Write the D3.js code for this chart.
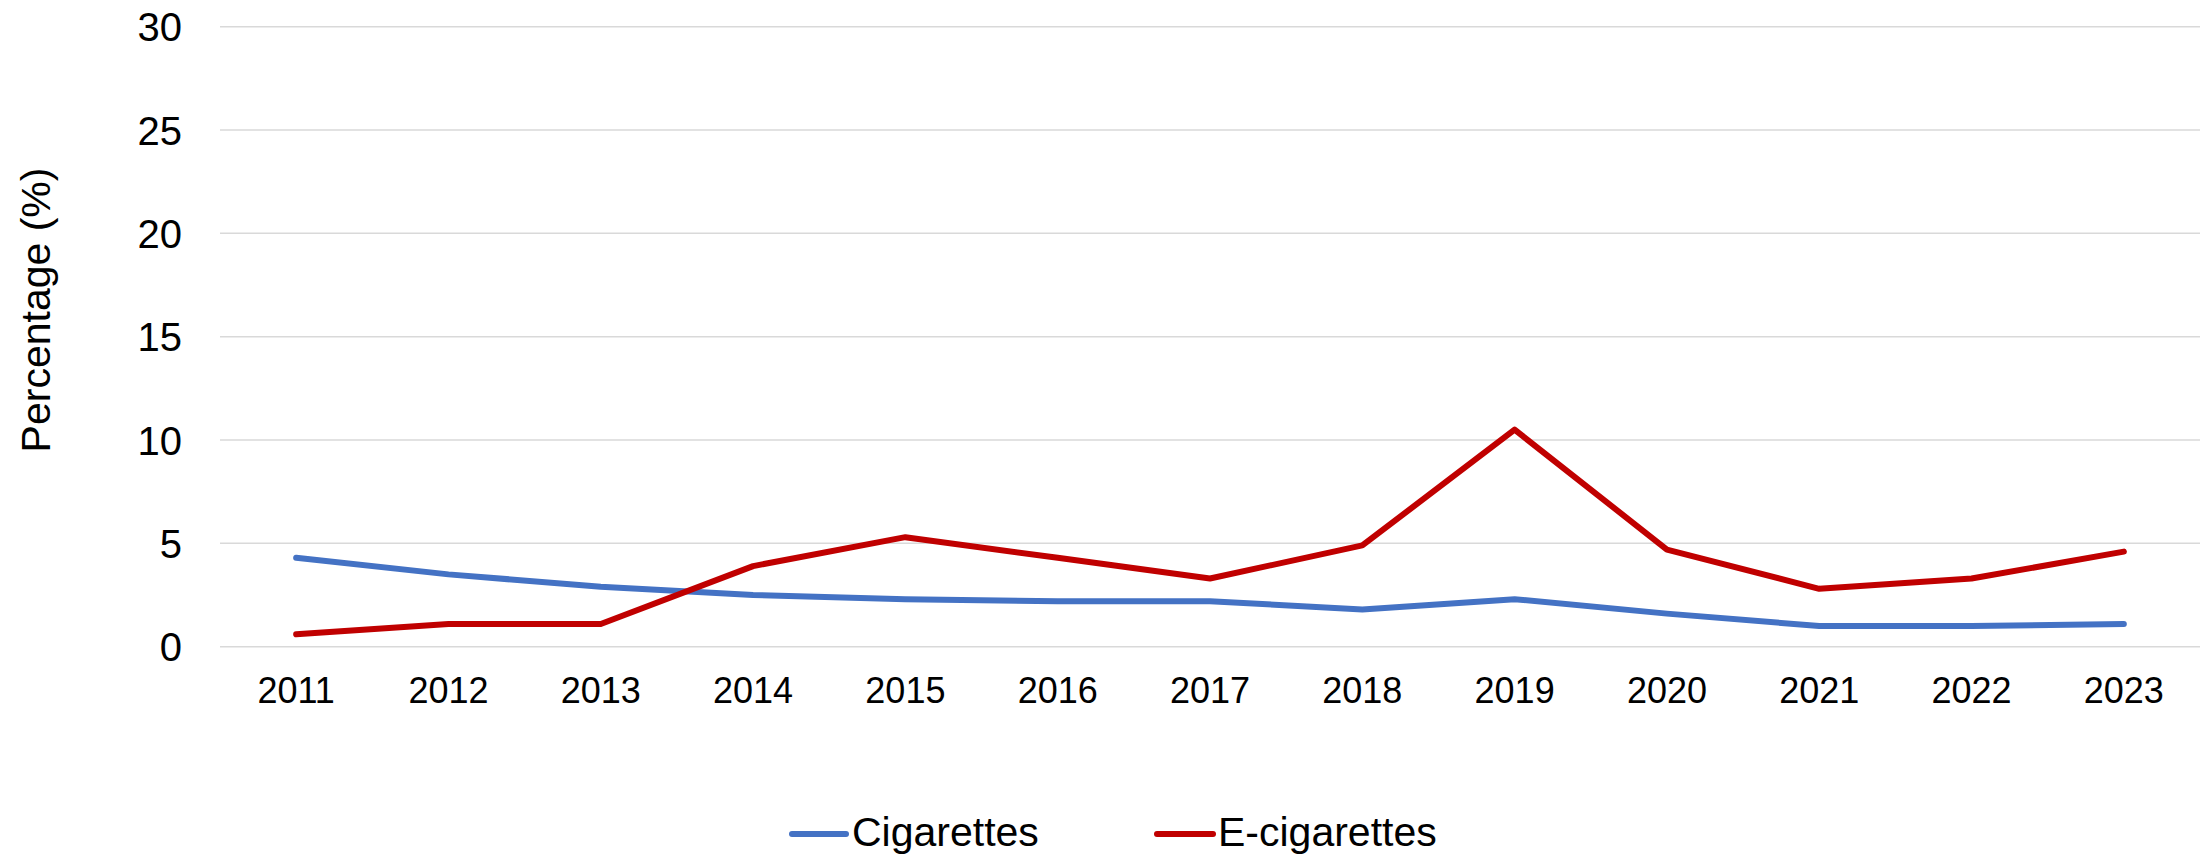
<!DOCTYPE html>
<html>
<head>
<meta charset="utf-8">
<script src="https://cdn.jsdelivr.net/npm/d3@7"></script>
<style>
  html, body { margin: 0; padding: 0; background: #fff; }
  svg { display: block; font-family: "Liberation Sans", Arial, sans-serif; }
</style>
</head>
<body>
<svg id="chart" width="2209" height="858"></svg>
<script>
const years = ["2011","2012","2013","2014","2015","2016","2017","2018","2019","2020","2021","2022","2023"];
const cigarettes = [4.3, 3.5, 2.9, 2.5, 2.3, 2.2, 2.2, 1.8, 2.3, 1.6, 1.0, 1.0, 1.1];
const eCigarettes = [0.6, 1.1, 1.1, 3.9, 5.3, 4.3, 3.3, 4.9, 10.5, 4.7, 2.8, 3.3, 4.6];
const yTicks = [0, 5, 10, 15, 20, 25, 30];
const seriesNames = ["Cigarettes", "E-cigarettes"];
const seriesColors = ["#4472C4", "#C00000"];

(function () {
const svg = d3.select("#chart");
const plotLeft = 220, plotRight = 2200, plotTop = 26.7, plotBottom = 646.7;

const x = d3.scaleBand().domain(years).range([plotLeft, plotRight]).padding(0);
const y = d3.scaleLinear().domain([0, 30]).range([plotBottom, plotTop]);

// gridlines
svg.append("g").selectAll("line").data(yTicks).join("line")
  .attr("x1", plotLeft).attr("x2", plotRight)
  .attr("y1", d => y(d)).attr("y2", d => y(d))
  .attr("stroke", "#d9d9d9").attr("stroke-width", 1.5);

// y axis labels
const yAxis = d3.axisLeft(y).tickValues(yTicks).tickSize(0).tickPadding(0);
const gy = svg.append("g").attr("transform", "translate(182,0)").call(yAxis);
gy.select(".domain").remove();
gy.selectAll("text").attr("font-size", 40).attr("fill", "#000")
  .attr("font-family", "Liberation Sans, Arial, sans-serif").attr("dy", "0.35em");

// x axis labels
const xAxis = d3.axisBottom(x).tickSize(0).tickPadding(0);
const gx = svg.append("g").attr("transform", "translate(0,677)").call(xAxis);
gx.select(".domain").remove();
gx.selectAll("text").attr("font-size", 36).attr("fill", "#000")
  .attr("font-family", "Liberation Sans, Arial, sans-serif").attr("dy", "0.71em");

// y title
svg.append("text")
  .attr("transform", "translate(50,310) rotate(-90)")
  .attr("text-anchor", "middle")
  .attr("font-size", 41)
  .attr("fill", "#000")
  .text("Percentage (%)");

// lines
const line = d3.line()
  .x((d, i) => x(years[i]) + x.bandwidth() / 2)
  .y(d => y(d));

[cigarettes, eCigarettes].forEach((vals, k) => {
  svg.append("path")
    .datum(vals)
    .attr("d", line)
    .attr("fill", "none")
    .attr("stroke", seriesColors[k])
    .attr("stroke-width", 6)
    .attr("stroke-linejoin", "round")
    .attr("stroke-linecap", "round");
});

// legend
const legendItems = [
  { x1: 792, x2: 846, tx: 852 },
  { x1: 1157, x2: 1213, tx: 1218 }
];
legendItems.forEach((it, k) => {
  svg.append("line")
    .attr("x1", it.x1).attr("x2", it.x2)
    .attr("y1", 834).attr("y2", 834)
    .attr("stroke", seriesColors[k]).attr("stroke-width", 6)
    .attr("stroke-linecap", "round");
  svg.append("text")
    .attr("x", it.tx).attr("y", 846)
    .attr("font-size", 41).attr("fill", "#000")
    .text(seriesNames[k]);
});
})();
</script>
</body>
</html>
